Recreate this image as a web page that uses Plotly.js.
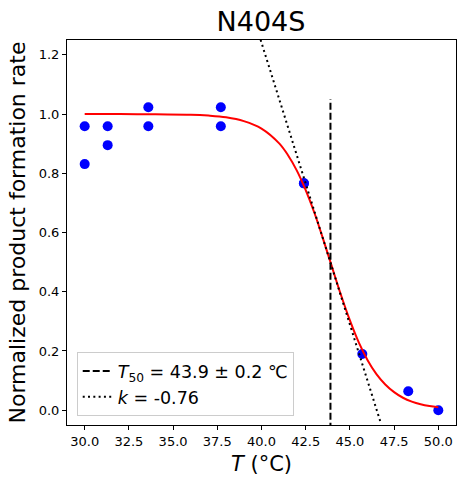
<!DOCTYPE html>
<html>
<head>
<meta charset="utf-8">
<script src="https://cdn.plot.ly/plotly-3.0.1.min.js"></script>
<style>html,body{margin:0;padding:0;background:#fff;}#plot{width:464px;height:487px;}</style>
</head>
<body>
<div id="plot"></div>
<script>
// Measured data points (temperature in °C, normalized rate)
const dataT = [30.0, 30.0, 31.3, 31.3, 33.6, 33.6, 37.7, 37.7, 42.4, 42.4, 45.7, 48.3, 50.0];
const dataY = [0.959, 0.831, 0.959, 0.895, 1.023, 0.959, 1.023, 0.959, 0.766, 0.766, 0.19, 0.064, 0.0];

// Fitted curve
const fitT = [30, 32, 34, 36, 37, 38, 39, 40, 41, 41.5, 42, 42.5, 43, 43.5, 43.9, 44.5, 45, 45.5, 46, 46.5, 47, 47.5, 48, 48.5, 49, 49.5, 50];
const fitY = [1.0, 1.0, 0.999, 0.998, 0.995, 0.989, 0.976, 0.951, 0.901, 0.861, 0.809, 0.743, 0.665, 0.575, 0.5, 0.388, 0.303, 0.229, 0.169, 0.122, 0.087, 0.061, 0.042, 0.029, 0.020, 0.014, 0.010];

// T50 vertical line
const t50T = [43.9, 43.9];
const t50Y = [-0.1, 1.05];

// Tangent (slope) line
const slopeT = [39.5, 46.75];
const slopeY = [1.336, -0.044];

const xTickVals = [30, 32.5, 35, 37.5, 40, 42.5, 45, 47.5, 50];
const xTickText = ["30.0", "32.5", "35.0", "37.5", "40.0", "42.5", "45.0", "47.5", "50.0"];
const yTickVals = [0, 0.2, 0.4, 0.6, 0.8, 1.0, 1.2];
const yTickText = ["0.0", "0.2", "0.4", "0.6", "0.8", "1.0", "1.2"];

const labelT50 = "<i>T</i><sub>50</sub> = 43.9 ± 0.2 ℃";
const labelK = "<i>k</i> = -0.76";

const font = "DejaVu Sans, sans-serif";

const traces = [
  {x: dataT, y: dataY, mode: "markers", type: "scatter", showlegend: false,
   marker: {color: "#0000ff", size: 10}},
  {x: fitT, y: fitY, mode: "lines", type: "scatter", showlegend: false,
   line: {color: "#ff0000", width: 2, shape: "spline"}},
  {x: t50T, y: t50Y, mode: "lines", type: "scatter", name: labelT50,
   line: {color: "#000000", width: 2, dash: "7px,3px"}},
  {x: slopeT, y: slopeY, mode: "lines", type: "scatter", name: labelK,
   line: {color: "#000000", width: 2, dash: "2px,3.3px"}}
];

const layout = {
  width: 464, height: 487,
  margin: {l: 67, r: 8, t: 40, b: 62},
  paper_bgcolor: "#fff", plot_bgcolor: "#fff",
  font: {family: font, color: "#000", size: 13},
  title: {text: "N404S", font: {family: font, size: 27, color: "#000"},
          x: 0.5625, xanchor: "center", yref: "container", y: 0.955, yanchor: "middle"},
  xaxis: {range: [29, 51], tickmode: "array", tickvals: xTickVals, ticktext: xTickText,
          showline: true, mirror: true, linecolor: "#000", linewidth: 1,
          ticks: "outside", ticklen: 4, tickcolor: "#000", showgrid: false, zeroline: false,
          tickfont: {size: 13},
          title: {text: "<i>T</i> (°C)", font: {size: 21}, standoff: 8}},
  yaxis: {range: [-0.05, 1.25], tickmode: "array", tickvals: yTickVals, ticktext: yTickText,
          showline: true, mirror: true, linecolor: "#000", linewidth: 1,
          ticks: "outside", ticklen: 4, tickcolor: "#000", showgrid: false, zeroline: false,
          tickfont: {size: 13},
          title: {text: "Normalized product formation rate", font: {size: 22}, standoff: 7}},
  legend: {x: 0.025, y: 0.023, xanchor: "left", yanchor: "bottom",
           bgcolor: "rgba(255,255,255,0.8)", bordercolor: "#cccccc", borderwidth: 1,
           font: {size: 17.5, family: font}, tracegroupgap: 0}
};

Plotly.newPlot("plot", traces, layout, {displayModeBar: false, staticPlot: true});
</script>
</body>
</html>
